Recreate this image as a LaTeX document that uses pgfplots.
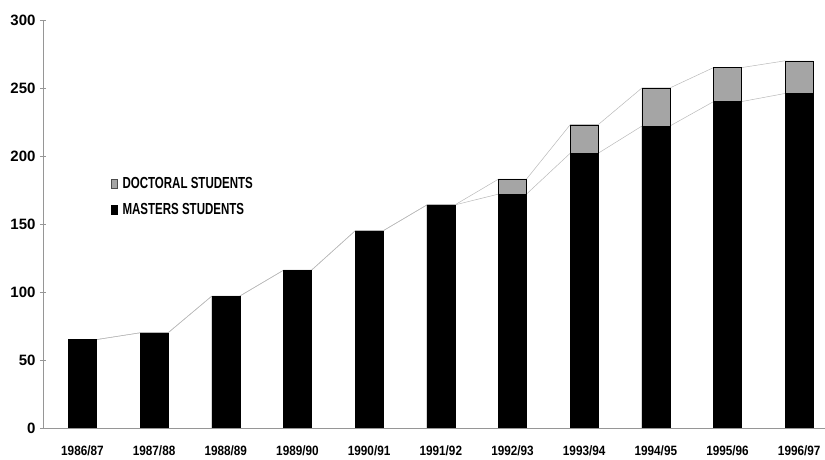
\documentclass[border=0pt]{standalone}
\usepackage{fontspec}
\setmainfont{Liberation Sans}
\newfontfamily\narrowfont{Liberation Sans}[FakeStretch=0.87]
\newfontfamily\legfont{Liberation Sans}[FakeStretch=0.72]
\usepackage{pgfplots}
\usepackage{pgfplotstable}
\pgfplotsset{compat=1.18}

\pgfplotstableread{
x masters doctoral
0  65  0
1  70  0
2  97  0
3  116 0
4  145 0
5  164 0
6  172 11
7  202 21
8  222 28
9  240 25
10 246 24
}\data

\definecolor{axisgrey}{RGB}{150,150,150}
\definecolor{linegrey}{RGB}{185,185,185}
\definecolor{docgrey}{RGB}{165,165,165}

\begin{document}
\begin{tikzpicture}
\begin{axis}[
    at={(0,0)}, anchor=south west,
    scale only axis,
    width=782pt, height=408pt,
    xmin=-0.55, xmax=10.36,
    ymin=0, ymax=300,
    axis x line=bottom, axis y line=left,
    axis line style={-, axisgrey, line width=0.5pt},
    ytick={0,50,...,300},
    xtick={0,...,10},
    xticklabels={1986/87,1987/88,1988/89,1989/90,1990/91,1991/92,1992/93,1993/94,1994/95,1995/96,1996/97},
    major x tick style={draw=none},
    extra x ticks={0.5,1.5,...,9.5},
    extra x tick labels={},
    extra x tick style={major tick length=5pt, tick style={axisgrey, line width=0.4pt}},
    tick align=center,
    major tick length=6pt,
    tick style={axisgrey, line width=0.4pt},
    /pgf/number format/assume math mode=true,
    yticklabel style={font=\fontsize{15}{15}\selectfont\bfseries, xshift=-1pt},
    xticklabel style={font=\narrowfont\fontsize{13.5}{13.5}\selectfont\bfseries, yshift=-11pt},
    legend style={draw=none, fill=none, at={(0.087,0.567)}, anchor=west,
        font=\legfont\fontsize{16}{16}\selectfont\bfseries, row sep=9pt,
        inner sep=0pt},
    legend cell align=left,
    legend image code/.code={\draw[#1] (0pt,-4.5pt) rectangle (5.5pt,4.5pt);
        \path[draw=none, fill=none] (9pt,0pt) circle (0.1pt);},
]
% series lines between bar tops
\addplot[linegrey, line width=0.5pt, forget plot] coordinates {
 (0.195,65)(0.805,70)(1.195,70)(1.805,97)(2.195,97)(2.805,116)(3.195,116)(3.805,145)(4.195,145)(4.805,164)(5.195,164)(5.805,172)(6.195,172)(6.805,202)(7.195,202)(7.805,222)(8.195,222)(8.805,240)(9.195,240)(9.805,246)};
\addplot[linegrey, line width=0.5pt, forget plot] coordinates {
 (0.195,65)(0.805,70)(1.195,70)(1.805,97)(2.195,97)(2.805,116)(3.195,116)(3.805,145)(4.195,145)(4.805,164)(5.195,164)(5.805,183)(6.195,183)(6.805,223)(7.195,223)(7.805,250)(8.195,250)(8.805,265)(9.195,265)(9.805,270)};
% total bar (doctoral on top), then masters over it
\addplot[ybar, bar width=0.39, bar shift=0pt, fill=docgrey, draw=black, line width=0.4pt, forget plot]
  table[x=x, y expr=\thisrow{masters}+\thisrow{doctoral}] {\data};
\addplot[ybar, bar width=0.39, bar shift=0pt, fill=black, draw=black, line width=0.4pt, forget plot]
  table[x=x, y=masters] {\data};
\addlegendimage{fill=docgrey, draw=black!70, line width=0.4pt}
\addlegendentry{DOCTORAL STUDENTS}
\addlegendimage{fill=black, draw=black, line width=0.4pt}
\addlegendentry{MASTERS STUDENTS}
\end{axis}
\pgfresetboundingbox
\path[use as bounding box] (-43pt,-32pt) rectangle (782pt,428pt);
\end{tikzpicture}
\end{document}
